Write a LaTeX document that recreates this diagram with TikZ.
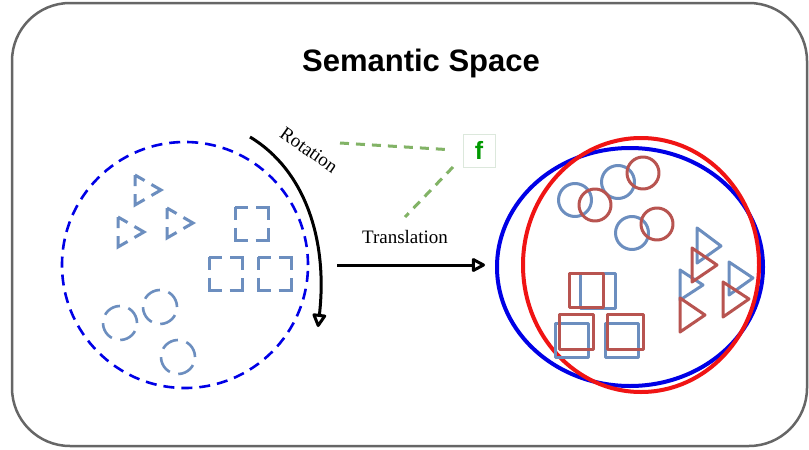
\documentclass[tikz,border=0pt]{standalone}
\usepackage{fontspec}
\setmainfont{Liberation Serif}
\setsansfont{Liberation Sans}
\usetikzlibrary{arrows.meta}
\definecolor{framegray}{HTML}{666666}
\definecolor{dblue}{RGB}{0,0,230}
\definecolor{sblue}{HTML}{6C8EBF}
\definecolor{sred}{HTML}{B85450}
\definecolor{gline}{HTML}{82B366}
\definecolor{fgreen}{HTML}{009900}
\definecolor{fborder}{HTML}{DCE8DC}
\definecolor{bigred}{RGB}{240,20,20}
\begin{document}
\begin{tikzpicture}[x=1pt,y=-1pt,
  outerframe/.style={draw=framegray,line width=2.5pt,rounded corners=58pt},
  dsq/.style={draw=sblue,line width=3pt,dash pattern=on 25pt off 8pt,dash phase=12.5pt},
  dtri/.style={draw=sblue,line width=3pt,dash pattern=on 22pt off 8pt,dash phase=11pt},
  dcirc/.style={draw=sblue,line width=2.6pt,dash pattern=on 18pt off 8.75pt},
  bshape/.style={draw=sblue,line width=3pt,line join=round},
  rshape/.style={draw=sred,line width=3pt,line join=round},
  arr/.style={line width=3pt,-{Triangle[open,length=15pt,width=15pt,line width=3pt,round]}},
  gdash/.style={draw=gline,line width=3pt,dash pattern=on 9pt off 7pt},
  serlabel/.style={font=\fontsize{19}{22}\selectfont,inner sep=0pt}
]
\useasboundingbox (0,0) rectangle (809,450);
\fill[white] (0,0) rectangle (809,450);
\draw[outerframe] (12,3) rectangle (807,446);

\node[font=\sffamily\bfseries\fontsize{31}{36}\selectfont] (title) at (421,63) {Semantic Space};

% left dashed space
\draw[draw=dblue,line width=2.6pt,dash pattern=on 11pt off 7pt] (185,265) circle[radius=123pt];
\draw[dtri] (135,175) -- (161,190) -- (135,205) -- cycle;
\draw[dtri] (118,217) -- (144,232) -- (118,247) -- cycle;
\draw[dtri] (167,208) -- (193,223) -- (167,238) -- cycle;
\draw[dsq] (235,207) rectangle (268,240);
\draw[dsq] (209,257) rectangle (242,290);
\draw[dsq] (258,257) rectangle (291,290);
\draw[dcirc] (120,323) circle[radius=17pt];
\draw[dcirc] (160,307) circle[radius=17pt];
\draw[dcirc] (178,357) circle[radius=17pt];

% rotation
\coordinate (r1) at (250,137);
\coordinate (r2) at (318,327);
\draw[arr] (r1) .. controls (305,170) and (328,240) .. (r2);
\node[serlabel,rotate=-35] (rot) at (309,150) {Rotation};

% f box
\node[draw=fborder,line width=1pt,fill=white,minimum width=32pt,minimum height=33pt,inner sep=0pt,
  text=fgreen,font=\sffamily\bfseries\fontsize{25}{28}\selectfont] (fbox) at (479,150.5) {f};

% translation
\node[serlabel] (trans) at (405,237) {Translation};
\coordinate (t1) at (337,265);
\coordinate (t2) at (485,265);
\draw[arr] (t1) -- (t2);

\coordinate (g1) at (340,143);
\draw[gdash] (g1) -- (fbox.west) [shorten >=14pt];
\coordinate (g2s) at (453,167);
\coordinate (g2e) at (405,217);
\draw[gdash] (g2s) -- (g2e);

% right space
\draw[draw=dblue,line width=4pt] (630,267) ellipse[x radius=133pt,y radius=119pt];
\draw[draw=bigred,line width=4pt] (641,265) ellipse[x radius=118pt,y radius=127pt];

\draw[bshape] (575,200) circle[radius=16.5pt];
\draw[bshape] (618,182) circle[radius=16.5pt];
\draw[bshape] (632,233) circle[radius=16.5pt];
\draw[rshape] (595,205) circle[radius=16pt];
\draw[rshape] (643,173) circle[radius=16pt];
\draw[rshape] (657,224) circle[radius=16pt];

\draw[bshape] (580,273) rectangle (615,308);
\draw[bshape] (555,323) rectangle (588,357);
\draw[bshape] (605,323) rectangle (638,357);
\draw[rshape] (569,273) rectangle (603,307);
\draw[rshape] (559,314) rectangle (593,349);
\draw[rshape] (607,314) rectangle (643,349);

\draw[bshape] (697,228) -- (721,246) -- (697,263) -- cycle;
\draw[bshape] (729,262) -- (753,278) -- (729,295) -- cycle;
\draw[bshape] (680,270) -- (703,285) -- (680,300) -- cycle;
\draw[rshape] (692,248) -- (717,265) -- (692,282) -- cycle;
\draw[rshape] (723,282) -- (749,299) -- (723,317) -- cycle;
\draw[rshape] (680,298) -- (705,315) -- (680,332) -- cycle;
\end{tikzpicture}
\end{document}
